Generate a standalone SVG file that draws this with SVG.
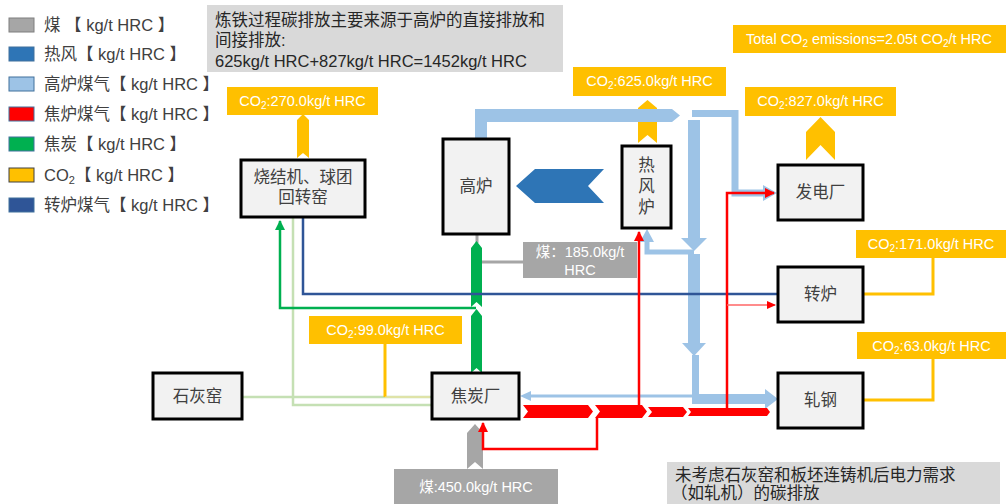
<svg xmlns="http://www.w3.org/2000/svg" width="1008" height="504" viewBox="0 0 1008 504">
<style>
text{font-family:"Liberation Sans","Noto Sans CJK SC",sans-serif;}
.lg{font-size:16.5px;fill:#404040;}
.nd{fill:#f2f2f2;stroke:#000;stroke-width:3;}
.nl{font-size:16.5px;fill:#404040;text-anchor:middle;}
.co{fill:#ffc000;}
.ct{font-size:14.5px;fill:#fff;text-anchor:middle;}
.note{fill:#d9d9d9;}
.nt{font-size:16.5px;fill:#262626;}
.bf{fill:#9dc3e6;}
.rd{fill:#ff0000;}
</style>
<defs>
<marker id="mG" markerWidth="10" markerHeight="10" refX="9" refY="5" orient="auto" markerUnits="userSpaceOnUse"><path d="M0,0 L10,5 L0,10 z" fill="#00b050"/></marker>
<marker id="mR" markerWidth="10" markerHeight="10" refX="9" refY="5" orient="auto" markerUnits="userSpaceOnUse"><path d="M0,0 L10,5 L0,10 z" fill="#ff0000"/></marker>
<marker id="mR2" markerWidth="9" markerHeight="8" refX="8" refY="4" orient="auto" markerUnits="userSpaceOnUse"><path d="M0,0 L9,4 L0,8 z" fill="#ff0000"/></marker>
</defs>

<!-- legend -->
<g id="legend">
<rect x="9" y="18" width="25" height="14" fill="#a6a6a6" stroke="#7f7f7f"/>
<text class="lg" x="44" y="31">煤 【 kg/t HRC 】</text>
<rect x="9" y="47" width="25" height="14" fill="#2e75b6" stroke="#41719c"/>
<text class="lg" x="44" y="60">热风【 kg/t HRC 】</text>
<rect x="9" y="77" width="25" height="14" fill="#9dc3e6" stroke="#41719c"/>
<text class="lg" x="44" y="90">高炉煤气【 kg/t HRC 】</text>
<rect x="9" y="107" width="25" height="14" fill="#ff0000" stroke="#41719c"/>
<text class="lg" x="44" y="120">焦炉煤气【 kg/t HRC 】</text>
<rect x="9" y="137" width="25" height="14" fill="#00b050" stroke="#41719c"/>
<text class="lg" x="44" y="150">焦炭【 kg/t HRC 】</text>
<rect x="9" y="168" width="25" height="14" fill="#ffc000" stroke="#404040"/>
<text class="lg" x="44" y="181">CO<tspan font-size="11" dy="3">2</tspan><tspan dy="-3">【 kg/t HRC 】</tspan></text>
<rect x="9" y="198" width="25" height="14" fill="#2f5597" stroke="#41719c"/>
<text class="lg" x="44" y="211">转炉煤气【 kg/t HRC 】</text>
</g>

<!-- notes -->
<g id="note-top">
<rect class="note" x="207" y="5" width="356" height="67"/>
<text class="nt" x="215" y="26">炼铁过程碳排放主要来源于高炉的直接排放和</text>
<text class="nt" x="215" y="46">间接排放:</text>
<text class="nt" x="215" y="67">625kg/t HRC+827kg/t HRC=1452kg/t HRC</text>
</g>
<g id="note-bottom">
<rect class="note" x="667" y="462" width="333" height="42"/>
<text class="nt" x="675" y="481">未考虑石灰窑和板坯连铸机后电力需求</text>
<text class="nt" x="671" y="499">（如轧机）的碳排放</text>
</g>
<g id="total-co2">
<rect class="co" x="733" y="25" width="273" height="28"/>
<text class="ct" x="869" y="44">Total CO<tspan font-size="10" dy="3">2</tspan><tspan dy="-3"> emissions=2.05t CO</tspan><tspan font-size="10" dy="3">2</tspan><tspan dy="-3">/t HRC</tspan></text>
</g>

<!-- connectors -->
<g id="connectors">
<path d="M242,397 H432" fill="none" stroke="#c5e0b4" stroke-width="2.5"/>
<path d="M293,217 V405 H432" fill="none" stroke="#c5e0b4" stroke-width="2.5"/>
<path d="M385,344 V397" fill="none" stroke="#ffc000" stroke-width="3"/>
<path d="M385,397 H430" fill="none" stroke="#ffe699" stroke-width="1.5" opacity="0.6"/>
<path d="M476,308 H280 V221" fill="none" stroke="#00b050" stroke-width="2.5" marker-end="url(#mG)"/>
<path d="M477,234 V243" fill="none" stroke="#a6a6a6" stroke-width="3"/>
<path d="M482,262 H523" fill="none" stroke="#a6a6a6" stroke-width="3"/>
<polygon points="476.5,241 482,248 482,307 476.5,302 471,307 471,248" fill="#00b050"/>
<polygon points="476.5,309 482,316 482,373 476.5,368 471,373 471,316" fill="#00b050"/>
<polygon points="475,424 483,433 483,469 475,462 467,469 467,433" fill="#a6a6a6"/>
<polygon points="303,114 309,120 309,158 303,153 297,158 297,120" class="co"/>
<polygon points="647.5,100 657,108 657,143 647.5,135 638,143 638,108" class="co"/>
<polygon points="820.5,117 835,132 835,160 820.5,145 806,160 806,132" class="co"/>
<path d="M863,294 H933 V258" fill="none" stroke="#ffc000" stroke-width="3"/>
<path d="M863,400 H933 V359" fill="none" stroke="#ffc000" stroke-width="3"/>
<polygon points="516,186 535,169 604,169 588,186 604,203 535,203" fill="#2e75b6"/>
<polygon points="475,139 475,109 672,109 680,115.5 672,122 487,122 487,139" class="bf"/>
<path d="M692,113.5 H735 V193 H765" fill="none" stroke="#9dc3e6" stroke-width="7"/>
<polygon points="763,185 777,193 763,201" class="bf"/>
<rect x="688" y="120" width="12" height="118" class="bf"/>
<polygon points="681,238 707,238 694,251" class="bf"/>
<path d="M694,252 H647 V240" fill="none" stroke="#9dc3e6" stroke-width="5"/>
<polygon points="640,242 654,242 647,229" class="bf"/>
<rect x="688" y="254" width="12" height="89" class="bf"/>
<polygon points="682,343 706,343 694,356" class="bf"/>
<rect x="692" y="355" width="7" height="49" class="bf"/>
<rect x="692" y="394" width="73" height="10" class="bf"/>
<polygon points="765,389 778,399 765,409" class="bf"/>
<path d="M693,396 H530" fill="none" stroke="#9dc3e6" stroke-width="3"/>
<polygon points="531,391 520,396 531,401" class="bf"/>
<path d="M303,217 V294 H778" fill="none" stroke="#2f5597" stroke-width="2.5"/>
<polygon points="523,405 588,405 593,411.5 588,418 523,418 528,411.5" class="rd"/>
<polygon points="595,405 642,405 647,411.5 642,418 595,418 600,411.5" class="rd"/>
<polygon points="648,407 683,407 687,412 683,417 648,417 652,412" class="rd"/>
<polygon points="688,408 767,408 770,412 767,416 688,416 691,412" class="rd"/>
<path d="M639,407 V232" fill="none" stroke="#ff0000" stroke-width="2.5" marker-end="url(#mR)"/>
<path d="M727,408 V193 H774" fill="none" stroke="#ff0000" stroke-width="2.5" marker-end="url(#mR)"/>
<path d="M727,305 H775" fill="none" stroke="#ff6666" stroke-width="1.5" marker-end="url(#mR2)"/>
<path d="M597,418 V449 H483 V423" fill="none" stroke="#ff0000" stroke-width="2.5" marker-end="url(#mR)"/>
</g>

<!-- nodes -->
<g id="node-sinter">
<rect class="nd" x="241" y="160" width="124" height="57"/>
<text class="nl" x="303" y="183">烧结机、球团</text>
<text class="nl" x="303" y="203">回转窑</text>
</g>
<g id="co2-sinter">
<rect class="co" x="227" y="87" width="151" height="28"/>
<text class="ct" x="302.5" y="106">CO<tspan font-size="10" dy="3">2</tspan><tspan dy="-3">:270.0kg/t HRC</tspan></text>
</g>
<g id="node-bf">
<rect class="nd" x="443" y="139" width="66" height="95"/>
<text class="nl" x="476" y="192">高炉</text>
</g>
<g id="node-hotstove">
<rect class="nd" x="622" y="146" width="49" height="82"/>
<text class="nl" x="646.5" y="171">热</text>
<text class="nl" x="646.5" y="192">风</text>
<text class="nl" x="646.5" y="213">炉</text>
</g>
<g id="co2-hotstove">
<rect class="co" x="573" y="67" width="153" height="29"/>
<text class="ct" x="649.5" y="86">CO<tspan font-size="10" dy="3">2</tspan><tspan dy="-3">:625.0kg/t HRC</tspan></text>
</g>
<g id="coal-bf">
<rect x="523" y="242" width="114" height="36" fill="#a6a6a6"/>
<text class="ct" x="580" y="257">煤：185.0kg/t</text>
<text class="ct" x="580" y="275">HRC</text>
</g>
<g id="node-power">
<rect class="nd" x="778" y="165" width="85" height="55"/>
<text class="nl" x="820.5" y="198">发电厂</text>
</g>
<g id="co2-power">
<rect class="co" x="745" y="87" width="151" height="29"/>
<text class="ct" x="820.5" y="106">CO<tspan font-size="10" dy="3">2</tspan><tspan dy="-3">:827.0kg/t HRC</tspan></text>
</g>
<g id="node-bof">
<rect class="nd" x="778" y="267" width="85" height="55"/>
<text class="nl" x="820.5" y="300">转炉</text>
</g>
<g id="co2-bof">
<rect class="co" x="856" y="230" width="150" height="28"/>
<text class="ct" x="931" y="249">CO<tspan font-size="10" dy="3">2</tspan><tspan dy="-3">:171.0kg/t HRC</tspan></text>
</g>
<g id="node-rolling">
<rect class="nd" x="778" y="373" width="85" height="55"/>
<text class="nl" x="820.5" y="406">轧钢</text>
</g>
<g id="co2-rolling">
<rect class="co" x="857" y="332" width="149" height="27"/>
<text class="ct" x="931.5" y="351">CO<tspan font-size="10" dy="3">2</tspan><tspan dy="-3">:63.0kg/t HRC</tspan></text>
</g>
<g id="node-lime">
<rect class="nd" x="153" y="373" width="89" height="46"/>
<text class="nl" x="197.5" y="402">石灰窑</text>
</g>
<g id="node-coke">
<rect class="nd" x="432" y="373" width="87" height="46"/>
<text class="nl" x="475.5" y="402">焦炭厂</text>
</g>
<g id="co2-coke">
<rect class="co" x="309" y="316" width="153" height="28"/>
<text class="ct" x="385.5" y="335">CO<tspan font-size="10" dy="3">2</tspan><tspan dy="-3">:99.0kg/t HRC</tspan></text>
</g>
<g id="coal-coke">
<rect x="394" y="469" width="164" height="35" fill="#a6a6a6"/>
<text class="ct" x="476" y="492">煤:450.0kg/t HRC</text>
</g>
</svg>
